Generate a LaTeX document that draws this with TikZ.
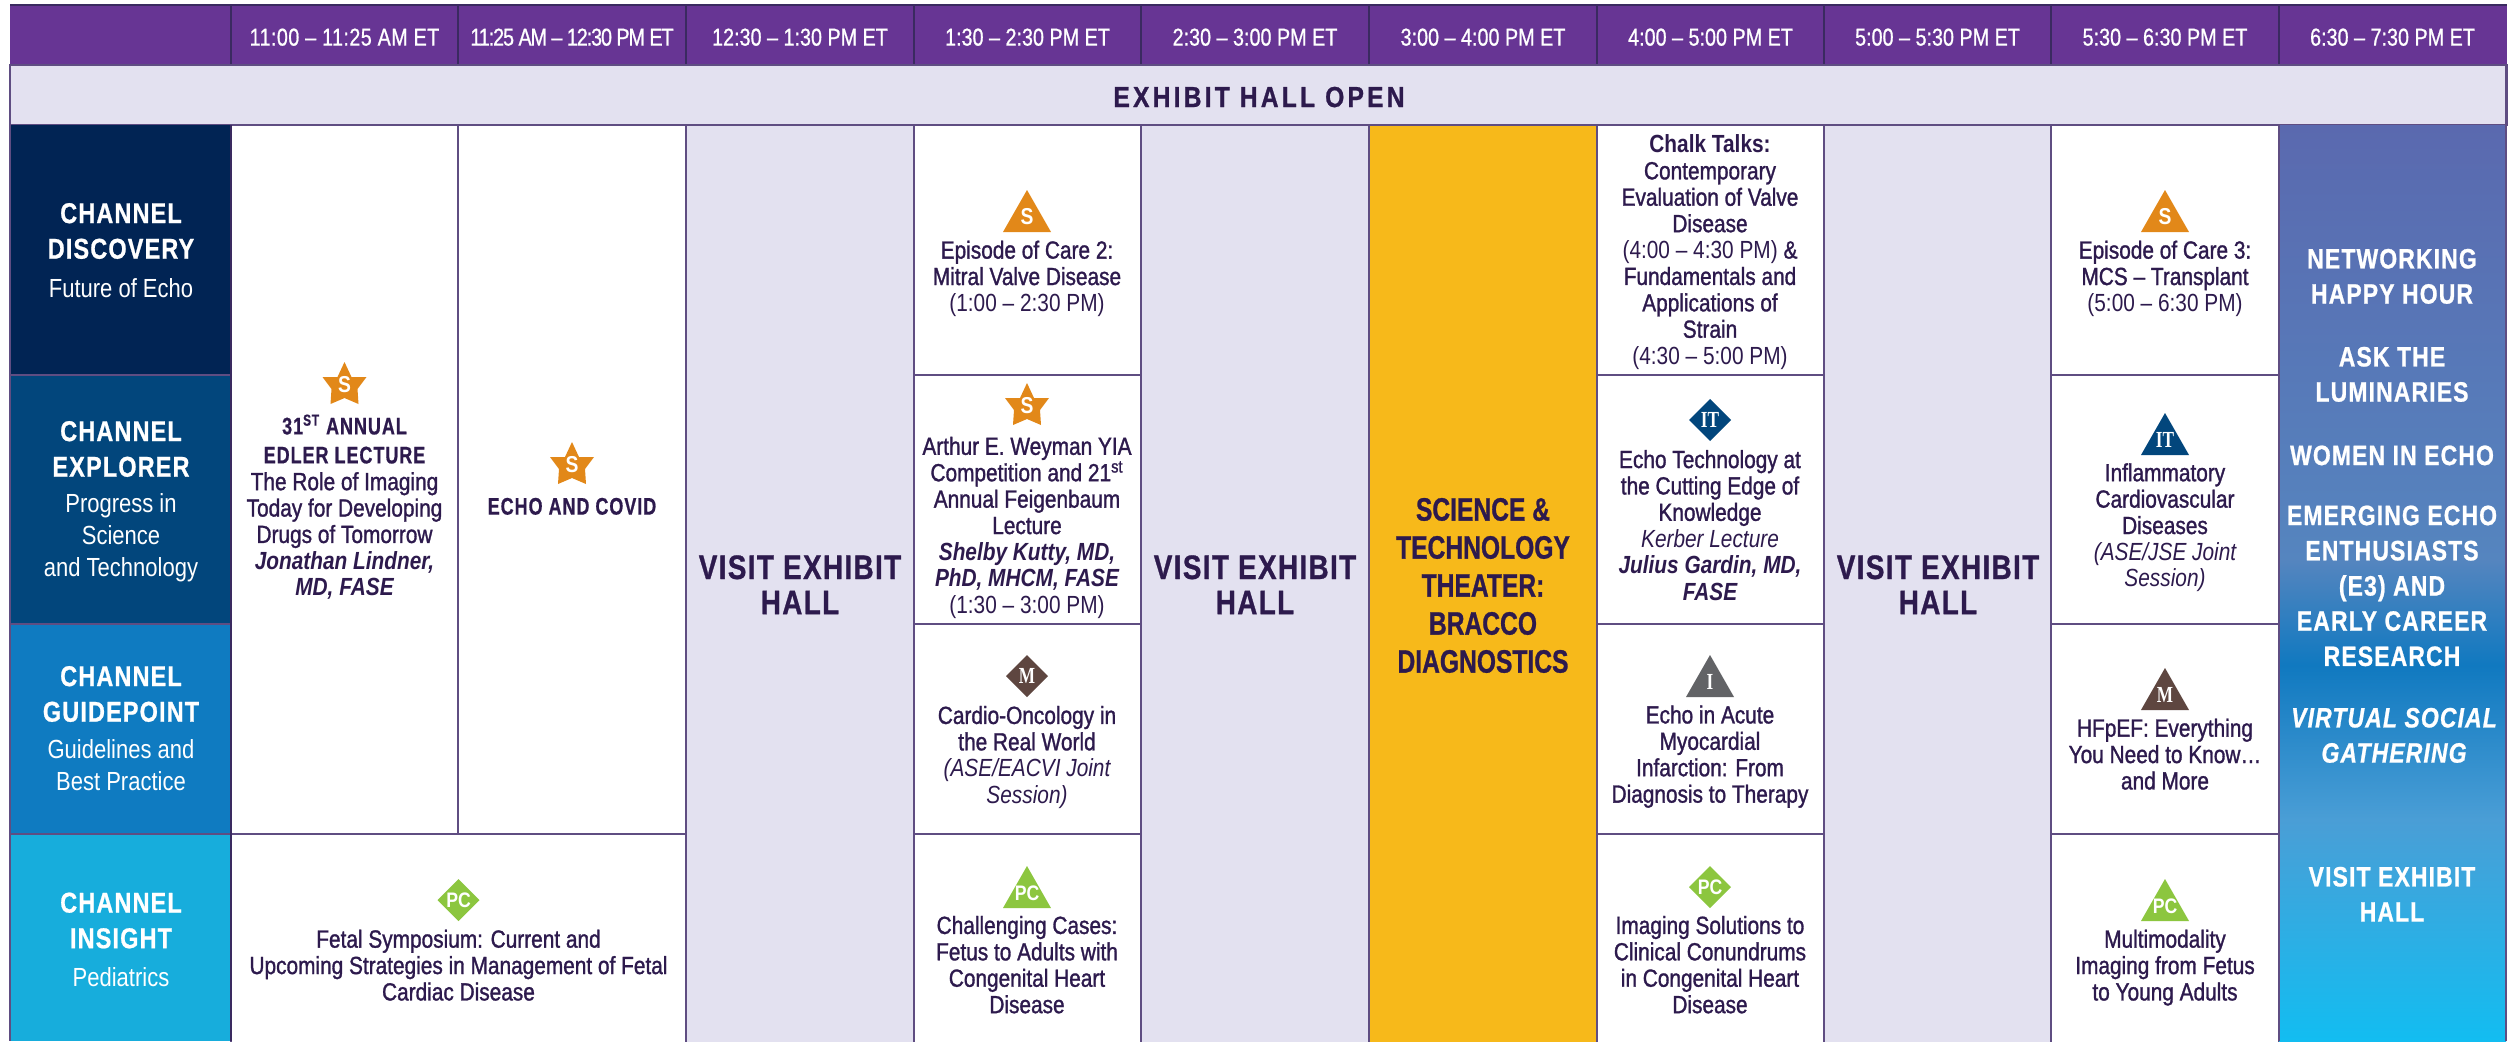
\documentclass[tikz,border=0pt]{standalone}
\usepackage{fontspec}
\setmainfont[FakeStretch=.84]{Liberation Sans}
\newfontfamily\medf[FakeStretch=.84,FakeBold=1.2]{Liberation Sans}
\newfontfamily\hdrf[FakeStretch=.81,FakeBold=.8]{Liberation Sans}
\newfontfamily\capsf[FakeStretch=.75,LetterSpace=4,FakeBold=.6]{Liberation Sans}
\newfontfamily\bigf[FakeStretch=.82,LetterSpace=4,FakeBold=.8]{Liberation Sans}
\newfontfamily\hallf[FakeStretch=.85,LetterSpace=11,FakeBold=.8]{Liberation Sans}
\newfontfamily\theatf[FakeStretch=.76,FakeBold=.8]{Liberation Sans}
\newfontfamily\slabf[FakeStretch=.75]{Liberation Serif}
\definecolor{ink}{HTML}{2D1A4D}
\definecolor{rule}{HTML}{5F4D82}
\definecolor{ruledark}{HTML}{3A2A60}
\definecolor{hdrpurple}{HTML}{673594}
\definecolor{lav}{HTML}{E3E1F0}
\definecolor{chA}{HTML}{012454}
\definecolor{chB}{HTML}{02467C}
\definecolor{chC}{HTML}{0F7BC1}
\definecolor{chD}{HTML}{17ADDC}
\definecolor{gold}{HTML}{F7B91A}
\definecolor{orng}{HTML}{E28819}
\definecolor{leaf}{HTML}{8CC63F}
\definecolor{umber}{HTML}{5E4640}
\definecolor{slate}{HTML}{626366}
\definecolor{gradA}{HTML}{5A69AF}
\definecolor{gradB}{HTML}{5585BF}
\definecolor{gradC}{HTML}{1079C0}
\definecolor{gradD}{HTML}{4A9ED6}
\definecolor{gradE}{HTML}{12BDF1}
\tikzset{
  gridbox/.style={draw=rule,line width=1pt},
  hdrtext/.style={text=white,inner sep=0pt,yshift=-.6pt,font=\hdrf\fontsize{12.2}{14}\selectfont},
  bodytext/.style={text=ink,inner sep=0pt,align=center,yshift=-1.5pt,
     execute at begin node=\strut,execute at end node=\strut,
     font=\medf\fontsize{12.4}{13.2}\selectfont},
  chantitle/.style={text=white,inner sep=0pt,align=center,yshift=-2.6pt,
     execute at begin node=\strut,execute at end node=\strut,
     font=\bigf\bfseries\fontsize{14.3}{17.8}\selectfont},
  chansub/.style={text=white,inner sep=0pt,align=center,yshift=-1.3pt,
     execute at begin node=\strut,execute at end node=\strut,
     font=\fontsize{13.1}{16}\selectfont},
  bigtext/.style={inner sep=0pt,align=center,yshift=-2.5pt,
     execute at begin node=\strut,execute at end node=\strut,
     font=\bigf\bfseries\fontsize{14}{17.6}\selectfont},
  visittext/.style={bigtext,text=ink,font=\bigf\bfseries\fontsize{17}{17.6}\selectfont},
  halltext/.style={bigtext,text=ink,yshift=.5pt,font=\hallf\bfseries\fontsize{14.5}{17.6}\selectfont},
  theatertext/.style={bigtext,text=ink,font=\theatf\bfseries\fontsize{16.2}{19}\selectfont},
  smallcaps/.style={bodytext,yshift=.6pt,font=\capsf\bfseries\fontsize{12}{14.5}\selectfont},
  nametext/.style={bodytext,font=\bfseries\itshape\fontsize{12.4}{13.2}\selectfont},
  iconlabel/.style={text=white,inner sep=0pt,font=\bfseries\fontsize{11.5}{12}\selectfont},
  pclabel/.style={text=white,inner sep=0pt,font=\bfseries\fontsize{10.5}{12}\selectfont},
  slablabel/.style={text=white,inner sep=0pt,font=\slabf\bfseries\fontsize{11.5}{12}\selectfont},
}
% x, top y, colour, label style, label
\newcommand{\icontri}[5]{\fill[#3] (#1,#2) -- ++(24,42) -- ++(-48,0) -- cycle;
  \node[#4] at (#1,#2+27) {#5};}
\newcommand{\icondia}[5]{\fill[#3] (#1,#2) -- ++(21,21) -- ++(-21,21) -- ++(-21,-21) -- cycle;
  \node[#4] at (#1,#2+21) {#5};}
\newcommand{\iconstar}[5]{\fill[#3] (#1,#2) -- ++(7,15) -- ++(15,0) -- ++(-9,12) -- ++(1,15)
  -- ++(-14,-6) -- ++(-14,6) -- ++(1,-15) -- ++(-9,-12) -- ++(15,0) -- cycle;
  \node[#4] at (#1,#2+23) {#5};}
\begin{document}
\begin{tikzpicture}[x=.5pt,y=-.5pt]
\useasboundingbox (0,0) rectangle (2518,1041);
\fill[white] (0,0) rectangle (2518,1041);
% header
\fill[hdrpurple] (10,5) rectangle (2507,65);
\draw[draw=ruledark,line width=1pt] (10,5) -- (2507,5);
\foreach \xx in {231,458,686,914,1141,1369,1597,1824,2051,2279}
  \draw[draw=ruledark,line width=.8pt] (\xx,5) -- (\xx,65);
% exhibit band
\path[fill=lav,gridbox] (10,65) rectangle (2507,125);
% channels
\fill[chA] (10,125) rectangle (231,375);
\fill[chB] (10,375) rectangle (231,624);
\fill[chC] (10,624) rectangle (231,834);
\fill[chD] (10,834) rectangle (231,1041);
\draw[gridbox] (10,125) -- (10,1041) (231,125) -- (231,1041);
\draw[gridbox] (10,375) -- (231,375) (10,624) -- (231,624) (10,834) -- (231,834);
% left sessions
\path[fill=white,gridbox] (231,125) rectangle (458,834);
\path[fill=white,gridbox] (458,125) rectangle (686,834);
\path[fill=white,gridbox] (231,834) rectangle (686,1043);
% exhibit columns
\path[fill=lav,gridbox] (686,125) rectangle (914,1043);
\path[fill=lav,gridbox] (1141,125) rectangle (1369,1043);
\path[fill=lav,gridbox] (1824,125) rectangle (2051,1043);
\path[fill=gold,gridbox] (1369,125) rectangle (1597,1043);
% session columns
\foreach \xa/\xb in {914/1141,1597/1824,2051/2279}{
  \path[fill=white,gridbox] (\xa,125) rectangle (\xb,375);
  \path[fill=white,gridbox] (\xa,375) rectangle (\xb,624);
  \path[fill=white,gridbox] (\xa,624) rectangle (\xb,834);
  \path[fill=white,gridbox] (\xa,834) rectangle (\xb,1043);
}
% last column gradient
\shade[top color=gradA,bottom color=gradB,shading=axis,middle color=gradA!50!gradB] (2279,125) rectangle (2506,560);
\shade[top color=gradB,bottom color=gradC] (2279,560) rectangle (2506,665);
\shade[top color=gradC,bottom color=gradD] (2279,665) rectangle (2506,820);
\shade[top color=gradD,bottom color=gradE] (2279,820) rectangle (2506,1041);
\draw[gridbox] (2279,125) -- (2279,1041) (2506,65) -- (2506,1041);
\draw[draw=ruledark,line width=.8pt] (231,125) -- (231,1041);
% header text
\node[hdrtext] (h1) at (344.5,36) {\addfontfeature{LetterSpace=1.7}11:00 – 11:25 AM ET};
\node[hdrtext] (h2) at (572,36) {\addfontfeature{LetterSpace=-4.4}11:25 AM – 12:30 PM ET};
\node[hdrtext] (h3) at (800,36) {12:30 – 1:30 PM ET};
\node[hdrtext] (h4) at (1027.5,36) {1:30 – 2:30 PM ET};
\node[hdrtext] (h5) at (1255,36) {2:30 – 3:00 PM ET};
\node[hdrtext] (h6) at (1483,36) {3:00 – 4:00 PM ET};
\node[hdrtext] (h7) at (1710.5,36) {4:00 – 5:00 PM ET};
\node[hdrtext] (h8) at (1937.5,36) {5:00 – 5:30 PM ET};
\node[hdrtext] (h9) at (2165,36) {5:30 – 6:30 PM ET};
\node[hdrtext] (h10) at (2392.5,36) {6:30 – 7:30 PM ET};
\node[halltext] (hall) at (1259,96) {EXHIBIT HALL OPEN};
% channel labels
\node[chantitle] (c1t) at (121,231) {CHANNEL\\DISCOVERY};
\node[chansub] (c1s) at (121,288) {Future of Echo};
\node[chantitle] (c2t) at (121,449) {CHANNEL\\EXPLORER};
\node[chansub] (c2s) at (121,537) {Progress in\\Science\\and Technology};
\node[chantitle] (c3t) at (121,694) {CHANNEL\\GUIDEPOINT};
\node[chansub] (c3s) at (121,767) {Guidelines and\\Best Practice};
\node[chantitle] (c4t) at (121,920.5) {CHANNEL\\INSIGHT};
\node[chansub] (c4s) at (121,977) {Pediatrics};
% Edler
\iconstar{344.5}{362}{orng}{iconlabel}{S}
\node[smallcaps] (edlerA) at (344.5,441.5) {31\textsuperscript{ST} ANNUAL\\EDLER LECTURE};
\node[bodytext] (edlerB) at (344.5,508.5) {The Role of Imaging\\Today for Developing\\Drugs of Tomorrow};
\node[nametext] (edlerC) at (344.5,574.5) {Jonathan Lindner,\\MD, FASE};
% Covid
\iconstar{572}{442}{orng}{iconlabel}{S}
\node[smallcaps] (covid) at (572,507) {ECHO AND COVID};
% Fetal
\icondia{458.5}{879}{leaf}{pclabel}{PC}
\node[bodytext] (fetal) at (458.5,966) {Fetal Symposium: Current and\\Upcoming Strategies in Management of Fetal\\Cardiac Disease};
% Visit
\node[visittext] (v1) at (800,585) {VISIT EXHIBIT\\HALL};
\node[visittext] (v2) at (1255,585) {VISIT EXHIBIT\\HALL};
\node[visittext] (v3) at (1938,585) {VISIT EXHIBIT\\HALL};
% Column 1:30
\icontri{1027}{190}{orng}{iconlabel}{S}
\node[bodytext] (ep2) at (1027,277) {Episode of Care 2:\\Mitral Valve Disease\\{\normalfont (1:00 – 2:30 PM)}};
\iconstar{1027}{383}{orng}{iconlabel}{S}
\node[bodytext] (yia) at (1027,526) {Arthur E. Weyman YIA\\Competition and 21\textsuperscript{st}\\Annual Feigenbaum\\Lecture\\{\normalfont\bfseries\itshape Shelby Kutty, MD,}\\{\normalfont\bfseries\itshape PhD, MHCM, FASE}\\{\normalfont (1:30 – 3:00 PM)}};
\icondia{1027}{655}{umber}{slablabel}{M}
\node[bodytext] (onco) at (1027,755.5) {Cardio-Oncology in\\the Real World\\{\normalfont\itshape (ASE/EACVI Joint}\\{\normalfont\itshape Session)}};
\icontri{1027}{866}{leaf}{pclabel}{PC}
\node[bodytext] (chal) at (1027,965.5) {Challenging Cases:\\Fetus to Adults with\\Congenital Heart\\Disease};
% Science
\node[theatertext] (sci) at (1483,586) {SCIENCE \&\\TECHNOLOGY\\THEATER:\\BRACCO\\DIAGNOSTICS};
% Column 4:00
\node[bodytext] (chalk) at (1710,250.5) {{\normalfont\bfseries Chalk Talks:}\\Contemporary\\Evaluation of Valve\\Disease\\{\normalfont (4:00 – 4:30 PM)} \&\\Fundamentals and\\Applications of\\Strain\\{\normalfont (4:30 – 5:00 PM)}};
\icondia{1710}{399}{chB}{slablabel}{IT}
\node[bodytext] (tech) at (1710,526) {Echo Technology at\\the Cutting Edge of\\Knowledge\\{\normalfont\itshape Kerber Lecture}\\{\normalfont\bfseries\itshape Julius Gardin, MD,}\\{\normalfont\bfseries\itshape FASE}};
\icontri{1710}{655}{slate}{slablabel}{I}
\node[bodytext] (acute) at (1710,755) {Echo in Acute\\Myocardial\\Infarction: From\\Diagnosis to Therapy};
\icondia{1710}{866}{leaf}{pclabel}{PC}
\node[bodytext] (conun) at (1710,965.5) {Imaging Solutions to\\Clinical Conundrums\\in Congenital Heart\\Disease};
% Column 5:30
\icontri{2165}{190}{orng}{iconlabel}{S}
\node[bodytext] (ep3) at (2165,277) {Episode of Care 3:\\MCS – Transplant\\{\normalfont (5:00 – 6:30 PM)}};
\icontri{2165}{413}{chB}{slablabel}{IT}
\node[bodytext] (infl) at (2165,526) {Inflammatory\\Cardiovascular\\Diseases\\{\normalfont\itshape (ASE/JSE Joint}\\{\normalfont\itshape Session)}};
\icontri{2165}{668}{umber}{slablabel}{M}
\node[bodytext] (hfpef) at (2165,755) {HFpEF: Everything\\You Need to Know…\\and More};
\icontri{2165}{879}{leaf}{pclabel}{PC}
\node[bodytext] (multi) at (2165,966) {Multimodality\\Imaging from Fetus\\to Young Adults};
% Evening column
\node[bigtext,text=white] (n1) at (2392,276.5) {NETWORKING\\HAPPY HOUR};
\node[bigtext,text=white] (n2) at (2392,374.5) {ASK THE\\LUMINARIES};
\node[bigtext,text=white] (n3) at (2392,453) {WOMEN IN ECHO};
\node[bigtext,text=white] (n4) at (2392,586) {EMERGING ECHO\\ENTHUSIASTS\\(E3) AND\\EARLY CAREER\\RESEARCH};
\node[bigtext,text=white,font=\bigf\bfseries\itshape\fontsize{14}{17.6}\selectfont] (n5) at (2394,735.5) {VIRTUAL SOCIAL\\GATHERING};
\node[bigtext,text=white] (n6) at (2392,894.5) {VISIT EXHIBIT\\HALL};
\end{tikzpicture}
\end{document}
